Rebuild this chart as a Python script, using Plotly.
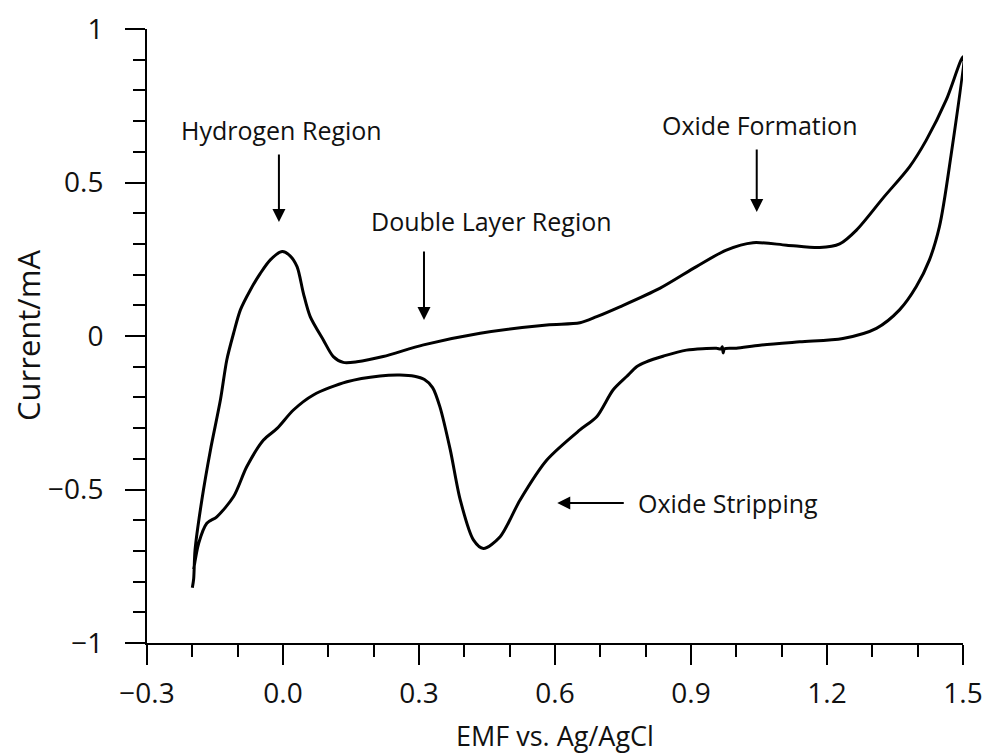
import plotly.graph_objects as go

# Anodic (forward) scan: -0.2 V -> 1.5 V
fwd_potential = [-0.200, -0.197, -0.194, -0.179, -0.160, -0.138, -0.124, -0.109, -0.094,
                 -0.072, -0.050, -0.028, -0.002, 0.015, 0.031, 0.045, 0.060, 0.089, 0.111,
                 0.133, 0.163, 0.221, 0.310, 0.435, 0.582, 0.655, 0.692, 0.743, 0.831,
                 0.912, 0.978, 1.037, 1.111, 1.184, 1.228, 1.265, 1.324, 1.382, 1.419,
                 1.463, 1.500]
fwd_current = [-0.820, -0.790, -0.697, -0.534, -0.371, -0.208, -0.078, 0.009, 0.085,
               0.150, 0.204, 0.248, 0.275, 0.262, 0.226, 0.139, 0.063, -0.013, -0.067,
               -0.086, -0.084, -0.067, -0.029, 0.009, 0.036, 0.043, 0.063, 0.095, 0.155,
               0.226, 0.280, 0.304, 0.296, 0.288, 0.300, 0.345, 0.450, 0.551, 0.638,
               0.769, 0.910]

# Cathodic (reverse) scan: 1.5 V -> -0.2 V
rev_potential = [1.470, 1.448, 1.426, 1.397, 1.360, 1.309, 1.235, 1.140, 1.052, 1.000,
                 0.974, 0.971, 0.969, 0.966, 0.956, 0.890, 0.840, 0.800, 0.780, 0.758,
                 0.728, 0.692, 0.655, 0.582, 0.523, 0.479, 0.442, 0.420, 0.391, 0.369,
                 0.346, 0.330, 0.312, 0.290, 0.258, 0.214, 0.141, 0.067, 0.023, -0.013,
                 -0.043, -0.080, -0.109, -0.146, -0.168, -0.186, -0.197]
rev_current = [0.552, 0.356, 0.248, 0.161, 0.085, 0.025, -0.008, -0.019, -0.030, -0.040,
               -0.042, -0.055, -0.035, -0.042, -0.040, -0.046, -0.065, -0.085, -0.100, -0.132,
               -0.176, -0.263, -0.306, -0.404, -0.534, -0.654, -0.692, -0.664, -0.534, -0.371,
               -0.230, -0.168, -0.142, -0.131, -0.127, -0.130, -0.149, -0.192, -0.241, -0.301,
               -0.339, -0.426, -0.523, -0.589, -0.610, -0.675, -0.760]

x_tickvals = [-0.3, 0.0, 0.3, 0.6, 0.9, 1.2, 1.5]
x_ticktext = ["\u22120.3", "0.0", "0.3", "0.6", "0.9", "1.2", "1.5"]
y_tickvals = [-1, -0.5, 0, 0.5, 1]
y_ticktext = ["\u22121", "\u22120.5", "0", "0.5", "1"]

labels = ["Hydrogen Region", "Double Layer Region", "Oxide Formation", "Oxide Stripping"]
x_title = "EMF vs. Ag/AgCl"
y_title = "Current/mA"

FONT = "Open Sans"
TXT = "#111111"

fig = go.Figure()
fig.add_trace(go.Scatter(
    x=fwd_potential + rev_potential,
    y=fwd_current + rev_current,
    mode="lines",
    line=dict(color="black", width=3, shape="spline", smoothing=0.8),
    showlegend=False,
    hoverinfo="skip",
))

lab_font = dict(family=FONT, size=25, color=TXT)
ann = []
ann.append(dict(x=-0.004, y=0.671, text=labels[0], showarrow=False, xanchor="center", yanchor="middle", font=lab_font))
ann.append(dict(x=0.459, y=0.375, text=labels[1], showarrow=False, xanchor="center", yanchor="middle", font=lab_font))
ann.append(dict(x=1.050, y=0.687, text=labels[2], showarrow=False, xanchor="center", yanchor="middle", font=lab_font))
ann.append(dict(x=0.779, y=-0.544, text=labels[3], showarrow=False, xanchor="left", yanchor="middle", font=lab_font))

arrow_style = dict(showarrow=True, arrowhead=2, arrowsize=1.3, arrowwidth=2, arrowcolor="black",
                   text="", xref="x", yref="y", axref="x", ayref="y")
ann.append(dict(x=-0.009, y=0.371, ax=-0.009, ay=0.596, **arrow_style))
ann.append(dict(x=0.311, y=0.052, ax=0.311, ay=0.280, **arrow_style))
ann.append(dict(x=1.045, y=0.404, ax=1.045, ay=0.612, **arrow_style))
ann.append(dict(x=0.605, y=-0.544, ax=0.755, ay=-0.544, **arrow_style))

# axis titles placed as paper annotations
ann.append(dict(xref="paper", yref="paper", x=0.5, y=0, yshift=-92, xanchor="center", yanchor="middle",
                text=x_title, showarrow=False, font=dict(family=FONT, size=27, color=TXT)))
ann.append(dict(xref="paper", yref="paper", x=0, y=0.5, xshift=-119, xanchor="center", yanchor="middle",
                text=y_title, textangle=-90, showarrow=False, font=dict(family=FONT, size=31, color=TXT)))

fig.update_layout(
    width=987, height=753,
    margin=dict(l=147, r=24, t=29, b=110),
    plot_bgcolor="white", paper_bgcolor="white",
    font=dict(family=FONT, size=28, color=TXT),
    annotations=ann,
    xaxis=dict(
        range=[-0.3, 1.5], showgrid=False, zeroline=False, automargin=False,
        showline=True, linecolor="black", linewidth=2,
        ticks="outside", ticklen=20, tickwidth=2, tickcolor="black",
        tickvals=x_tickvals, ticktext=x_ticktext,
        minor=dict(tickvals=[round(-0.3 + 0.1 * i, 1) for i in range(19)],
                   ticks="outside", ticklen=12, tickwidth=2, tickcolor="black", showgrid=False),
        tickfont=dict(family=FONT, size=28, color=TXT),
        ticklabelstandoff=4,
    ),
    yaxis=dict(
        range=[-1, 1], showgrid=False, zeroline=False, automargin=False,
        showline=True, linecolor="black", linewidth=2,
        ticks="outside", ticklen=20, tickwidth=2, tickcolor="black",
        tickvals=y_tickvals, ticktext=y_ticktext,
        minor=dict(tickvals=[round(-1 + 0.1 * i, 1) for i in range(21)],
                   ticks="outside", ticklen=12, tickwidth=2, tickcolor="black", showgrid=False),
        tickfont=dict(family=FONT, size=28, color=TXT),
        ticklabelstandoff=16,
    ),
)

fig.write_html("out.html", config={"displayModeBar": False},
               post_script="document.body.style.margin='0';")
